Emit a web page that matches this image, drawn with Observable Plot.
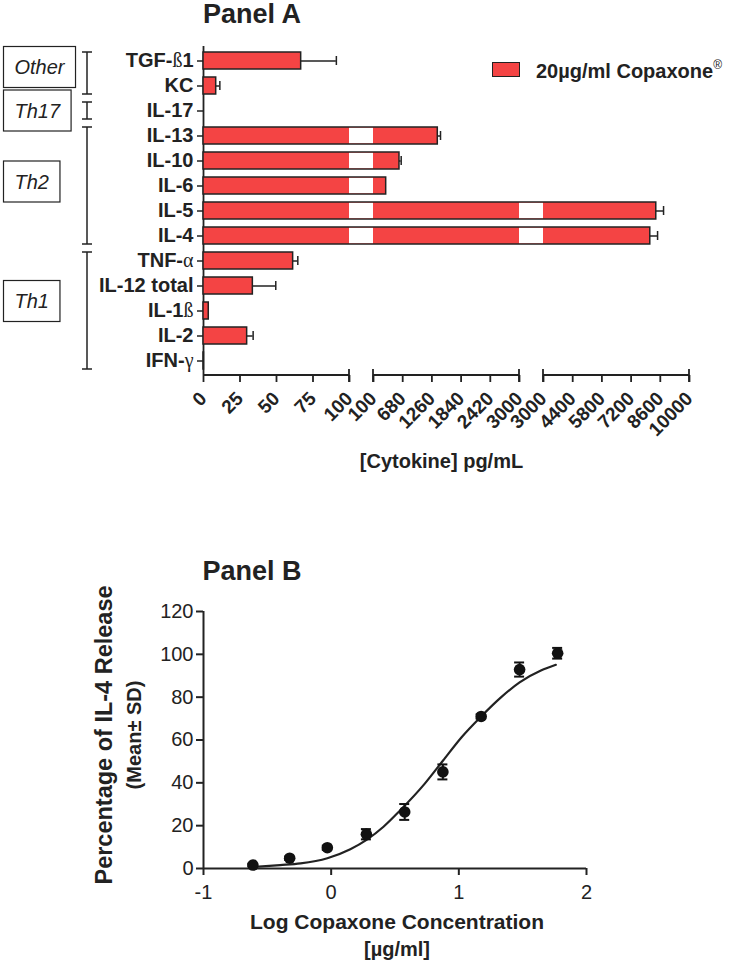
<!DOCTYPE html>
<html><head><meta charset="utf-8">
<script src="https://cdn.jsdelivr.net/npm/d3@7"></script>
<script src="https://cdn.jsdelivr.net/npm/@observablehq/plot@0.6"></script>
<style>
body{margin:0;background:#fff;font-family:"Liberation Sans",Arial,sans-serif;color:#222;}
#page{position:relative;width:731px;height:966px;overflow:hidden;background:#fff}
.abs{position:absolute}
.title{font-weight:bold;font-size:27px;line-height:22px;width:200px;text-align:center;white-space:nowrap}
</style></head><body><div id="page"></div>
<script>
// ---------- Panel A data ----------
const cytokines = ["TGF-ß1","KC","IL-17","IL-13","IL-10","IL-6","IL-5","IL-4","TNF-α","IL-12 total","IL-1ß","IL-2","IFN-γ"];
const cytokineMean = [66.9, 8.7, 0, 1377, 616, 352, 8407, 8120, 61.4, 33.8, 3.6, 29.9, 0.3];
const cytokineErr  = [24.1, 2.5, 0, 54, 34, 0, 349, 349, 3.2, 15.7, 0, 4.1, 0];
const groupNames = ["Other","Th17","Th2","Th1"];
const groupFirst = ["TGF-ß1","IL-17","IL-13","TNF-α"];
const groupLast  = ["KC","IL-17","IL-4","IFN-γ"];
const axisSegments = [[0,100],[100,3000],[3000,10000]];
const segmentTicks = [[0,25,50,75,100],[100,680,1260,1840,2420,3000],[3000,4400,5800,7200,8600,10000]];
const legendLabel = "20µg/ml Copaxone";
const xTitleA = "[Cytokine] pg/mL";

// ---------- Panel B data ----------
const logConc = [-0.613,-0.325,-0.03,0.276,0.576,0.875,1.175,1.476,1.774];
const il4Mean = [1.6,4.8,9.7,16.0,26.4,45.1,71.0,92.9,100.5];
const il4Sd   = [0.6,0.8,1.0,2.4,3.7,3.5,1.0,3.3,2.5];
const fitX = [-0.62,-0.4,-0.24,-0.03,0.15,0.28,0.41,0.53,0.73,0.875,1.02,1.175,1.33,1.476,1.643,1.76];
const fitY = [0.7,1.6,2.4,4.8,9.0,13.5,19.5,26.5,39.4,50.3,61.2,71.0,79.9,86.9,92.4,95.1];
const xTicksB = [-1,0,1,2];
const yTicksB = [0,20,40,60,80,100,120];

const FONT = "'Liberation Sans', Arial, sans-serif";
const RED = "#F44444";
const INK = "#222";
const GAP = 24/146;
// vertical nudges of the group label boxes relative to their brackets (layout)
const BOX_SHIFT = [-6, 0, -4, -9.5];

const page = document.getElementById("page");

function segPos(s, v){ const [a,b] = axisSegments[s]; return s*(1+GAP) + (v-a)/(b-a); }
function brk(v){
  for (let s = 0; s < axisSegments.length; s++) if (v <= axisSegments[s][1] || s === axisSegments.length-1) return segPos(s, v);
}
const rows = cytokines.map((name,i)=>({name, mean: cytokineMean[i], err: cytokineErr[i]}));
const barRows = rows.filter(d => d.mean > 0);
const errRows = rows.filter(d => d.err > 0);
const gapRows = [];
rows.forEach(d => {
  for (let s = 1; s < axisSegments.length; s++) if (d.mean > axisSegments[s][0]) gapRows.push({name: d.name, g1: segPos(s-1, axisSegments[s-1][1]), g2: segPos(s, axisSegments[s][0])});
});
const tickPositions = [], tickLabelMap = new Map();
segmentTicks.forEach((ts, s) => ts.forEach(v => { const p = segPos(s, v); tickPositions.push(p); tickLabelMap.set(p, String(v)); }));

function brokenAxis(index, scales, values, dims){
  const g = d3.create("svg:g").attr("stroke", INK).attr("stroke-width", 1.8).attr("fill","none");
  const yb = dims.height - dims.marginBottom;
  axisSegments.forEach(([a,b], s) => {
    const x1 = scales.x(segPos(s,a)), x2 = scales.x(segPos(s,b));
    g.append("line").attr("x1", x1).attr("x2", x2).attr("y1", yb).attr("y2", yb);
    const caps = s > 0 ? [x1, x2] : [x2];
    caps.forEach(x => g.append("line").attr("x1", x).attr("x2", x).attr("y1", yb-6).attr("y2", yb+7));
  });
  return g.node();
}

function groupAnnotations(index, scales, values, dims){
  const g = d3.create("svg:g").attr("fill","none").attr("stroke", INK);
  const y = scales.y, bw = y.bandwidth();
  const xLine = scales.x(0) - 116;
  const ctx = document.createElement("canvas").getContext("2d");
  ctx.font = "italic 20px 'Liberation Sans'";
  groupNames.forEach((name, i) => {
    const top = y(groupFirst[i]), bot = y(groupLast[i]) + bw;
    g.append("line").attr("x1", xLine).attr("x2", xLine).attr("y1", top).attr("y2", bot).attr("stroke-width", 1.5);
    [top, bot].forEach(yy => g.append("line").attr("x1", xLine-5).attr("x2", xLine+5).attr("y1", yy).attr("y2", yy).attr("stroke-width", 1.5));
    const mid = (top+bot)/2 + BOX_SHIFT[i], w = ctx.measureText(name).width + 22, h = 41;
    g.append("rect").attr("x", 3.5).attr("y", mid-h/2).attr("width", w).attr("height", h).attr("stroke-width", 1.2);
    g.append("text").attr("x", 3.5 + w/2).attr("y", mid).attr("dy", "0.35em").attr("text-anchor","middle")
      .attr("fill", INK).attr("stroke","none").attr("font-style","italic").attr("font-size", 20).text(name);
  });
  return g.node();
}

const plotA = Plot.plot({
  width: 731, height: 480,
  marginLeft: 203, marginRight: 42, marginTop: 46, marginBottom: 105,
  style: {fontFamily: FONT, color: INK, background: "transparent", overflow: "visible"},
  x: {domain: [0, 3 + 2*GAP]},
  y: {domain: cytokines, paddingInner: 0.33, paddingOuter: 0.18},
  marks: [
    Plot.axisY({tickSize: 6, tickPadding: 4, fontSize: 20, fontWeight: "bold", strokeWidth: 1.5, label: null}),
    Plot.axisX(tickPositions, {tickFormat: p => tickLabelMap.get(p), tickRotate: -45, tickSize: 7, tickPadding: 13,
      fontSize: 19, fontWeight: "bold", strokeWidth: 1.8, label: null}),
    brokenAxis,
    Plot.ruleX([0], {strokeWidth: 1.8, stroke: INK}),
    Plot.barX(barRows, {y: "name", x1: 0, x2: d => brk(d.mean), fill: RED, stroke: INK, strokeWidth: 1.5}),
    Plot.barX(gapRows, {y: "name", x1: "g1", x2: "g2", fill: "white", insetTop: 0.9, insetBottom: 0.9}),
    Plot.ruleY(errRows, {y: "name", x1: d => brk(d.mean), x2: d => brk(d.mean + d.err), stroke: INK, strokeWidth: 1.5}),
    Plot.tickX(errRows, {y: "name", x: d => brk(d.mean + d.err), insetTop: 4, insetBottom: 4, stroke: INK, strokeWidth: 1.5}),
    Plot.text([xTitleA], {frameAnchor: "bottom", dy: 92, dx: -5, fontSize: 20, fontWeight: "bold", fill: INK}),
    groupAnnotations
  ]
});
plotA.style.position = "absolute"; plotA.style.left = "0px"; plotA.style.top = "0px";
const SVGNS = "http://www.w3.org/2000/svg";
plotA.querySelectorAll("text").forEach(t => {
  const s = t.textContent;
  if (/[αγß]/.test(s) && t.children.length === 0) {
    t.textContent = "";
    s.split(/([αγß])/).forEach(part => {
      if (!part) return;
      const ts = document.createElementNS(SVGNS, "tspan");
      ts.textContent = part;
      if (/[αγß]/.test(part)) { ts.setAttribute("font-family", "'Liberation Serif', serif"); ts.setAttribute("font-weight", "normal"); }
      t.appendChild(ts);
    });
  }
});
page.appendChild(plotA);

function addTitle(text, cx, baseline){
  const d = document.createElement("div");
  d.className = "abs title"; d.textContent = text;
  // line-height 22px, font 27px: baseline = top + (22 - 1.117*27)/2 + 0.905*27
  d.style.left = (cx - 100) + "px"; d.style.top = (baseline - ((22 - 1.117*27)/2 + 0.905*27)) + "px";
  page.appendChild(d);
}
addTitle("Panel A", 252, 23);
const sw = document.createElement("div");
sw.className = "abs";
Object.assign(sw.style, {left: "492px", top: "62px", width: "28px", height: "15px", background: RED, border: "1.5px solid " + INK, boxSizing: "border-box"});
page.appendChild(sw);
const lg = document.createElement("div");
lg.className = "abs";
Object.assign(lg.style, {left: "536px", top: (78 - 0.8465*20) + "px", fontSize: "20px", lineHeight: "20px", fontWeight: "bold", whiteSpace: "nowrap"});
lg.innerHTML = legendLabel + '<span style="font-size:12px;position:relative;top:-9px;font-weight:normal">®</span>';
page.appendChild(lg);

// ---------- Panel B ----------
const pts = logConc.map((x,i)=>({x, y: il4Mean[i], sd: il4Sd[i]}));
const fit = fitX.map((x,i)=>({x, y: fitY[i]}));
const plotB = Plot.plot({
  width: 731, height: 376,
  marginLeft: 203, marginRight: 145, marginTop: 21, marginBottom: 98,
  style: {fontFamily: FONT, color: INK, background: "transparent", overflow: "visible"},
  x: {domain: [-1, 2]},
  y: {domain: [0, 120]},
  marks: [
    Plot.axisX({ticks: xTicksB, tickFormat: d => String(d), tickSize: 7, tickPadding: 9, fontSize: 20, strokeWidth: 2, label: null}),
    Plot.axisY({ticks: yTicksB, tickSize: 7, tickPadding: 3, fontSize: 20, strokeWidth: 2, label: null}),
    Plot.ruleX([-1], {strokeWidth: 2, stroke: INK}),
    Plot.ruleY([0], {strokeWidth: 2, stroke: INK}),
    Plot.line(fit, {x: "x", y: "y", curve: "monotone-x", stroke: INK, strokeWidth: 2.2}),
    Plot.ruleX(pts, {x: "x", y1: d => d.y - d.sd, y2: d => d.y + d.sd, stroke: "#111", strokeWidth: 2}),
    Plot.ruleY(pts, {y: d => d.y + d.sd, x1: "x", x2: "x", insetLeft: -5, insetRight: -5, stroke: "#111", strokeWidth: 2}),
    Plot.ruleY(pts, {y: d => d.y - d.sd, x1: "x", x2: "x", insetLeft: -5, insetRight: -5, stroke: "#111", strokeWidth: 2}),
    Plot.dot(pts, {x: "x", y: "y", r: 5.8, fill: "#111"}),
    Plot.text(["Percentage of IL-4 Release"], {frameAnchor: "left", textAnchor: "middle", rotate: -90, dx: -99, dy: -5, fontSize: 23.5, fontWeight: "bold", fill: INK}),
    Plot.text(["(Mean± SD)"], {frameAnchor: "left", textAnchor: "middle", rotate: -90, dx: -69, dy: -5, fontSize: 20, fontWeight: "bold", fill: INK}),
    Plot.text(["Log Copaxone Concentration"], {frameAnchor: "bottom", dy: 60, dx: 2, fontSize: 21, fontWeight: "bold", fill: INK}),
    Plot.text(["[µg/ml]"], {frameAnchor: "bottom", dy: 87, dx: 2, fontSize: 20, fontWeight: "bold", fill: INK})
  ]
});
plotB.style.position = "absolute"; plotB.style.left = "0px"; plotB.style.top = "590px";
page.appendChild(plotB);
addTitle("Panel B", 252, 580);
</script></body></html>
